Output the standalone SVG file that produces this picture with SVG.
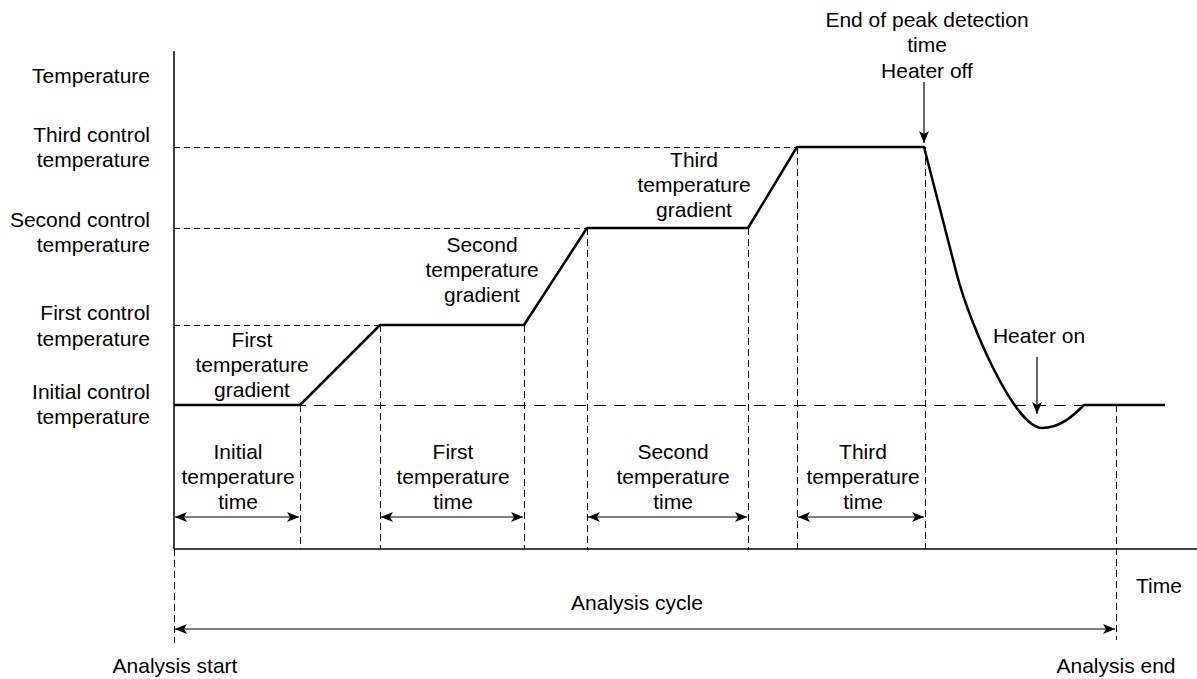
<svg xmlns="http://www.w3.org/2000/svg" width="1197" height="679" viewBox="0 0 1197 679">
<style>
text{font-family:"Liberation Sans",Arial,sans-serif;font-size:21px;fill:#000}
.r{text-anchor:end}
.m{text-anchor:middle}
.axis{stroke:#000;stroke-width:1.5;fill:none}
.hd{stroke:#000;stroke-width:1;stroke-dasharray:6 4;fill:none}
.ld{stroke:#000;stroke-width:1;stroke-dasharray:12 8;fill:none}
.vd{stroke:#000;stroke-width:1;stroke-dasharray:7 4;fill:none}
.curve{stroke:#000;stroke-width:2.5;fill:none;stroke-linejoin:round}
.arr{stroke:#000;stroke-width:1.2;fill:none;marker-end:url(#ah)}
.dim{stroke:#000;stroke-width:1.2;fill:none;marker-start:url(#ahs);marker-end:url(#ah)}
</style>
<defs>
<marker id="ah" viewBox="0 0 12 10" refX="12" refY="5" markerWidth="12" markerHeight="10" markerUnits="userSpaceOnUse" orient="auto">
<path d="M0,0 L12,5 L0,10 L3,5 Z" fill="#000"/>
</marker>
<marker id="ahs" viewBox="0 0 12 10" refX="0" refY="5" markerWidth="12" markerHeight="10" markerUnits="userSpaceOnUse" orient="auto">
<path d="M12,0 L0,5 L12,10 L9,5 Z" fill="#000"/>
</marker>
</defs>

<g id="axes">
<line class="axis" x1="174" y1="51" x2="174" y2="549"/>
<line class="axis" x1="174" y1="549" x2="1197" y2="549"/>
</g>

<g id="connectors">
<line class="hd" x1="174" y1="147.5" x2="797" y2="147.5"/>
<line class="hd" x1="174" y1="228.5" x2="587" y2="228.5"/>
<line class="hd" x1="174" y1="325.5" x2="380" y2="325.5"/>
<line class="ld" x1="174" y1="405.5" x2="1165" y2="405.5"/>
<line class="vd" x1="300.5" y1="405" x2="300.5" y2="549"/>
<line class="vd" x1="380.5" y1="325" x2="380.5" y2="549"/>
<line class="vd" x1="524.5" y1="325" x2="524.5" y2="549"/>
<line class="vd" x1="587.5" y1="228" x2="587.5" y2="549"/>
<line class="vd" x1="748.5" y1="228" x2="748.5" y2="549"/>
<line class="vd" x1="797.5" y1="147" x2="797.5" y2="549"/>
<line class="vd" x1="925.5" y1="147" x2="925.5" y2="549"/>
<line class="vd" x1="1116.5" y1="405" x2="1116.5" y2="640"/>
<line class="vd" x1="174.5" y1="549" x2="174.5" y2="643"/>
<path class="curve" d="M174,405 L300,405 L380,325 L524,325 L587,228 L748,228 L797,147 L924,147 L957,275 C970,325 1015,428 1042,428 C1060,428 1073,416 1084,405 L1165,405"/>
<line class="dim" x1="175" y1="517" x2="299" y2="517"/>
<line class="dim" x1="381" y1="517" x2="523" y2="517"/>
<line class="dim" x1="588" y1="517" x2="747" y2="517"/>
<line class="dim" x1="798" y1="517" x2="924" y2="517"/>
<line class="dim" x1="175" y1="629" x2="1115" y2="629"/>
<line class="arr" x1="924" y1="82" x2="924" y2="143"/>
<line class="arr" x1="1037" y1="357" x2="1037" y2="414"/>
</g>

<g id="y-labels">
<text class="r" x="150" y="83">Temperature</text>
<text class="r" x="150" y="142">Third control</text>
<text class="r" x="150" y="167">temperature</text>
<text class="r" x="150" y="227">Second control</text>
<text class="r" x="150" y="252">temperature</text>
<text class="r" x="150" y="320">First control</text>
<text class="r" x="150" y="346">temperature</text>
<text class="r" x="150" y="399">Initial control</text>
<text class="r" x="150" y="424">temperature</text>
</g>

<g id="gradient-labels">
<text class="m" x="252" y="347">First</text>
<text class="m" x="252" y="372">temperature</text>
<text class="m" x="252" y="397">gradient</text>
<text class="m" x="482" y="252">Second</text>
<text class="m" x="482" y="277">temperature</text>
<text class="m" x="482" y="302">gradient</text>
<text class="m" x="694" y="167">Third</text>
<text class="m" x="694" y="192">temperature</text>
<text class="m" x="694" y="217">gradient</text>
</g>

<g id="time-labels">
<text class="m" x="238" y="459">Initial</text>
<text class="m" x="238" y="484">temperature</text>
<text class="m" x="238" y="509">time</text>
<text class="m" x="453" y="459">First</text>
<text class="m" x="453" y="484">temperature</text>
<text class="m" x="453" y="509">time</text>
<text class="m" x="673" y="459">Second</text>
<text class="m" x="673" y="484">temperature</text>
<text class="m" x="673" y="509">time</text>
<text class="m" x="863" y="459">Third</text>
<text class="m" x="863" y="484">temperature</text>
<text class="m" x="863" y="509">time</text>
</g>

<g id="event-labels">
<text class="m" x="927" y="27">End of peak detection</text>
<text class="m" x="927" y="52">time</text>
<text class="m" x="927" y="78">Heater off</text>
<text class="m" x="1039" y="343">Heater on</text>
</g>

<g id="bottom-labels">
<text x="1136" y="593">Time</text>
<text class="m" x="637" y="610">Analysis cycle</text>
<text class="m" x="175" y="673">Analysis start</text>
<text class="m" x="1116" y="673">Analysis end</text>
</g>
</svg>
